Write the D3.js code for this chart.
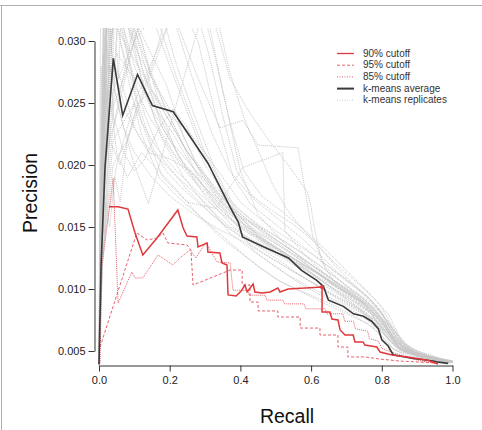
<!DOCTYPE html>
<html>
<head>
<meta charset="utf-8">
<script src="https://cdn.jsdelivr.net/npm/d3@7"></script>
<style>
  html, body { margin: 0; padding: 0; background: #fff; }
  svg { display: block; font-family: "Liberation Sans", Arial, Helvetica, sans-serif; }
</style>
</head>
<body>
<div id="chart"></div>
<script>
const WIDTH = 482;
const HEIGHT = 430;
const GREY = "#c6c6c6";
const BLACK = "#3a3a3a";
const RED = "#e0393b";
const LIGHTRED = "#e5606a";

const xTicks = [0, 0.2, 0.4, 0.6, 0.8, 1.0];
const yTicks = [0.005, 0.010, 0.015, 0.020, 0.025, 0.030];

// k-means average (recall, precision)
const kmeansAverage = [[0,.0039],[.006,.012],[.017,.0198],[.0405,.0286],[.067,.024],[.109,.0273],[.151,.0248],[.21,.0243],[.267,.0219],[.309,.0201],[.371,.0166],[.394,.0154],[.406,.0142],[.465,.0134],[.536,.0125],[.573,.0115],[.616,.0107],[.635,.0102],[.649,.0091],[.691,.0086],[.72,.008],[.748,.0078],[.771,.0074],[.79,.0068],[.8,.0059],[.818,.0054],[.832,.0047],[.889,.0044],[.946,.0042],[.96,.0041],[.988,.004]];

// cutoff curves
const cutoff90 = [[.028,.01664],[.054,.01664],[.082,.01645],[.102,.01452],[.124,.01274],[.164,.01411],[.223,.01637],[.238,.01492],[.249,.01427],[.277,.01419],[.28,.01339],[.306,.01371],[.308,.01298],[.342,.0129],[.348,.0121],[.362,.01194],[.365,.00952],[.388,.00944],[.402,.00984],[.413,.01032],[.419,.00976],[.436,.0104],[.441,.00976],[.461,.00968],[.484,.00976],[.506,.01008],[.512,.00976],[.535,.01],[.631,.01016],[.631,.00815],[.653,.00815],[.659,.00758],[.676,.0075],[.682,.0067],[.696,.00629],[.719,.00629],[.724,.00573],[.747,.00573],[.752,.00548],[.786,.00532],[.795,.00492],[.829,.00468],[.871,.00452],[.928,.00427],[.959,.00395]];
const cutoff95 = [[.003,.00532],[.107,.01452],[.136,.01395],[.164,.01411],[.181,.01452],[.195,.01371],[.249,.01355],[.26,.01315],[.266,.01032],[.371,.01153],[.405,.01153],[.405,.01032],[.427,.01032],[.427,.00895],[.45,.00895],[.45,.00823],[.506,.00823],[.506,.00774],[.569,.00774],[.569,.00685],[.625,.00685],[.625,.00629],[.676,.00629],[.676,.00532],[.704,.00532],[.704,.00452],[.752,.00452],[.795,.00435],[.851,.00419],[.956,.00403]];
const cutoff85 = [[.003,.00403],[.008,.01177],[.04,.01895],[.054,.00887],[.093,.01137],[.102,.01089],[.124,.01089],[.167,.01274],[.209,.01194],[.229,.0125],[.257,.01315],[.274,.0125],[.303,.01379],[.314,.01315],[.334,.01218],[.371,.0121],[.379,.0099],[.42,.0099],[.425,.0095],[.47,.0095],[.475,.0091],[.52,.0091],[.525,.0088],[.58,.0088],[.585,.0084],[.64,.0084],[.645,.008],[.69,.008],[.695,.0074],[.72,.0074],[.725,.0068],[.76,.0066],[.765,.006],[.79,.0058],[.8,.0052],[.83,.0049],[.87,.0045],[.91,.0042],[.956,.004]];

// k-means replicates
const replicates = [
  [[0,.004],[.005,.012],[.015,.024],[.025,.034],[.08,.033],[.15,.026],[.22,.021],[.3,.0175],[.38,.015],[.45,.0135],[.52,.0125],[.6,.011],[.68,.0095],[.75,.008],[.8,.0068],[.83,.0052],[.9,.0046],[1,.0041]],
  [[0,.004],[.008,.018],[.02,.035],[.1,.036],[.2,.028],[.28,.022],[.35,.0175],[.42,.0148],[.5,.013],[.58,.0118],[.65,.0102],[.72,.0088],[.78,.0076],[.82,.0062],[.86,.005],[.95,.0043],[1,.0041]],
  [[0,.004],[.01,.02],[.03,.038],[.14,.034],[.22,.027],[.3,.021],[.38,.0165],[.45,.0142],[.55,.0125],[.62,.0112],[.7,.0095],[.77,.0081],[.8,.0065],[.84,.0053],[.92,.0045],[.99,.0041]],
  [[0,.004],[.004,.01],[.02,.031],[.045,.036],[.12,.03],[.17,.025],[.24,.0215],[.32,.0182],[.4,.0152],[.47,.0138],[.55,.0122],[.63,.0108],[.7,.0097],[.76,.0083],[.8,.007],[.84,.0055],[.88,.0048],[.97,.0042],[1,.004]],
  [[0,.004],[.01,.012],[.03,.022],[.06,.02],[.1,.024],[.15,.028],[.21,.034],[.28,.03],[.33,.024],[.38,.019],[.43,.0168],[.5,.0152],[.57,.0136],[.63,.0122],[.7,.0108],[.76,.0094],[.8,.008],[.84,.0064],[.87,.0052],[.94,.0044],[1,.0041]],
  [[0,.004],[.01,.014],[.04,.026],[.1,.03],[.2,.034],[.33,.0312],[.37,.027],[.42,.0245],[.48,.022],[.54,.0198],[.59,.0178],[.6,.0166],[.61,.0148],[.63,.0122],[.66,.0108],[.72,.0095],[.78,.0083],[.82,.0067],[.86,.0054],[.92,.0046],[1,.0042]],
  [[0,.004],[.01,.016],[.03,.03],[.08,.035],[.2,.033],[.28,.027],[.342,.023],[.407,.0236],[.45,.0216],[.563,.0214],[.591,.0166],[.605,.0142],[.64,.0118],[.7,.0102],[.76,.0089],[.8,.0078],[.83,.0062],[.85,.0052],[.93,.0045],[1,.0042]],
  [[0,.004],[.01,.012],[.04,.022],[.1,.025],[.18,.019],[.25,.017],[.33,.0165],[.407,.0198],[.52,.021],[.526,.0147],[.58,.0128],[.64,.0112],[.7,.0098],[.76,.0086],[.8,.0072],[.84,.0058],[.88,.0048],[.96,.0043],[1,.0041]],
  [[0,.004],[.01,.014],[.03,.028],[.06,.024],[.1,.02],[.14,.0169],[.2,.023],[.26,.029],[.3,.033],[.35,.026],[.4,.0195],[.45,.016],[.52,.0138],[.6,.0117],[.68,.0101],[.75,.0088],[.8,.0075],[.84,.0058],[.88,.0049],[.96,.0043],[1,.0041]],
  [[0,.004],[.006,.016],[.018,.032],[.05,.034],[.09,.028],[.13,.024],[.18,.0205],[.25,.018],[.32,.016],[.4,.0142],[.47,.0128],[.55,.0114],[.62,.0102],[.68,.0091],[.74,.0082],[.79,.007],[.83,.0056],[.86,.0049],[.95,.0043],[1,.0041]],
  [[0,.004],[.012,.02],[.03,.033],[.07,.032],[.11,.029],[.16,.0265],[.22,.0235],[.27,.0205],[.33,.018],[.4,.0158],[.46,.0141],[.53,.0127],[.6,.0113],[.66,.0101],[.72,.009],[.78,.0078],[.82,.0064],[.85,.0053],[.9,.0047],[.98,.0042]],
  [[0,.004],[.004,.013],[.012,.026],[.03,.036],[.06,.03],[.09,.026],[.12,.0225],[.17,.019],[.22,.0175],[.3,.0155],[.38,.0135],[.45,.0118],[.52,.0105],[.6,.0095],[.67,.0086],[.73,.0077],[.78,.0068],[.81,.0058],[.84,.005],[.9,.0045],[1,.0041]],
  [[0,.004],[.01,.015],[.03,.024],[.07,.027],[.12,.032],[.17,.033],[.22,.028],[.27,.024],[.33,.0195],[.39,.0163],[.46,.0146],[.53,.0132],[.6,.0117],[.67,.0104],[.73,.0093],[.78,.0081],[.83,.0068],[.87,.0055],[.9,.0048],[.97,.0043],[1,.0041]],
  [[0,.004],[.01,.018],[.02,.027],[.04,.031],[.08,.033],[.13,.03],[.19,.0265],[.24,.0222],[.29,.0192],[.35,.0168],[.42,.015],[.49,.0136],[.56,.0122],[.63,.011],[.69,.0098],[.75,.0086],[.8,.0073],[.83,.006],[.87,.005],[.94,.0044],[1,.0041]],
  [[0,.004],[.01,.013],[.04,.02],[.08,.022],[.13,.026],[.18,.03],[.23,.034],[.27,.033],[.31,.029],[.35,.024],[.39,.0195],[.44,.0172],[.5,.0158],[.57,.0142],[.63,.0126],[.68,.0112],[.74,.0098],[.79,.0085],[.82,.007],[.85,.0057],[.9,.0048],[.98,.0042]],
  [[0,.004],[.006,.012],[.02,.021],[.05,.024],[.09,.029],[.14,.034],[.2,.037],[.28,.034],[.33,.0285],[.37,.0235],[.41,.0195],[.46,.0175],[.52,.0162],[.58,.0148],[.64,.0132],[.7,.0115],[.76,.0098],[.8,.0085],[.83,.007],[.86,.0056],[.93,.0046],[1,.0042]],
  [[0,.004],[.008,.017],[.02,.034],[.06,.035],[.1,.031],[.15,.027],[.19,.0245],[.24,.0215],[.28,.019],[.33,.0168],[.38,.0155],[.43,.0145],[.5,.0134],[.57,.0121],[.63,.0111],[.69,.0099],[.75,.0089],[.79,.0077],[.82,.0065],[.86,.0053],[.92,.0046],[1,.0041]],
  [[0,.004],[.005,.011],[.015,.02],[.03,.026],[.05,.021],[.08,.019],[.12,.021],[.17,.0195],[.22,.018],[.28,.016],[.35,.014],[.42,.0125],[.5,.0108],[.57,.0098],[.64,.0088],[.7,.008],[.76,.0072],[.8,.0062],[.83,.0052],[.87,.0046],[.95,.0042],[1,.0041]],
  [[0,.004],[.01,.022],[.025,.036],[.05,.033],[.08,.029],[.11,.025],[.15,.0215],[.19,.0195],[.24,.018],[.3,.0165],[.36,.015],[.43,.0138],[.5,.0125],[.56,.0113],[.62,.0102],[.68,.0092],[.74,.0083],[.79,.0072],[.82,.006],[.85,.0051],[.91,.0045],[.99,.0041]],
  [[0,.004],[.007,.014],[.02,.025],[.05,.029],[.1,.027],[.15,.025],[.21,.0225],[.26,.02],[.32,.0178],[.38,.0162],[.44,.0152],[.5,.0143],[.56,.0132],[.62,.012],[.68,.0107],[.73,.0096],[.78,.0084],[.82,.0068],[.85,.0056],[.9,.0047],[.97,.0042]],
  [[0,.004],[.01,.013],[.05,.02],[.1,.025],[.16,.029],[.22,.033],[.3,.036],[.34,.0312],[.37,.0275],[.41,.0238],[.45,.0212],[.49,.0185],[.53,.0165],[.57,.015],[.62,.0135],[.67,.0118],[.72,.0104],[.77,.0091],[.81,.0076],[.84,.0061],[.88,.0051],[.95,.0044],[1,.0042]],
  [[0,.004],[.01,.016],[.03,.029],[.06,.027],[.1,.023],[.14,.021],[.2,.0205],[.26,.0195],[.32,.0175],[.38,.0155],[.44,.013],[.5,.0118],[.56,.0106],[.62,.0096],[.68,.0088],[.74,.0079],[.78,.007],[.82,.006],[.86,.005],[.92,.0045],[1,.0041]],
  [[0,.004],[.005,.014],[.015,.03],[.035,.034],[.07,.03],[.1,.0265],[.14,.024],[.18,.0222],[.23,.02],[.29,.018],[.35,.0162],[.41,.0147],[.48,.0134],[.55,.0121],[.61,.011],[.67,.0099],[.72,.0088],[.77,.0076],[.81,.0063],[.84,.0053],[.9,.0046],[1,.0041]],
  [[0,.004],[.012,.019],[.04,.024],[.07,.021],[.1,.0195],[.13,.0205],[.17,.023],[.21,.0245],[.25,.023],[.3,.02],[.36,.0175],[.42,.0158],[.48,.0144],[.55,.013],[.62,.0116],[.68,.0104],[.74,.0094],[.79,.0083],[.83,.0069],[.86,.0057],[.9,.005],[.98,.0043]],
  [[0,.004],[.008,.012],[.02,.016],[.035,.022],[.06,.026],[.09,.03],[.12,.034],[.16,.036],[.22,.031],[.27,.0265],[.32,.0225],[.37,.0195],[.42,.0178],[.48,.0165],[.55,.0152],[.61,.0138],[.67,.012],[.73,.0105],[.78,.0092],[.82,.0079],[.85,.0062],[.88,.0052],[.96,.0044],[1,.0041]],
  [[0,.004],[.003,.012],[.01,.028],[.02,.04],[.05,.036],[.09,.03],[.13,.026],[.18,.022],[.24,.019],[.3,.0168],[.37,.015],[.44,.0139],[.51,.0128],[.58,.0116],[.65,.0103],[.71,.0092],[.77,.008],[.81,.0066],[.84,.0054],[.89,.0047],[.97,.0042]],
  [[0,.004],[.004,.016],[.012,.032],[.04,.038],[.08,.032],[.12,.027],[.16,.0235],[.21,.021],[.27,.0188],[.34,.0167],[.41,.0152],[.48,.014],[.55,.0127],[.62,.0113],[.68,.0101],[.74,.009],[.79,.0077],[.83,.0062],[.87,.0051],[.94,.0045],[1,.0041]],
  [[0,.004],[.006,.02],[.015,.034],[.03,.03],[.05,.027],[.08,.024],[.12,.022],[.17,.0205],[.23,.0188],[.3,.017],[.37,.0145],[.45,.0128],[.53,.0112],[.6,.0101],[.66,.0092],[.72,.0084],[.78,.0075],[.82,.0064],[.85,.0052],[.9,.0046],[.96,.0042],[1,.0041]],
  [[0,.004],[.003,.01],[.008,.022],[.015,.018],[.022,.03],[.03,.026],[.04,.034],[.07,.031],[.1,.028],[.14,.025],[.2,.022],[.26,.02],[.33,.0178],[.4,.0158],[.47,.0145],[.54,.0132],[.6,.012],[.66,.0108],[.72,.0096],[.77,.0085],[.81,.0072],[.84,.0058],[.88,.005],[.96,.0043],[1,.0041]],
  [[0,.004],[.002,.015],[.006,.028],[.01,.024],[.016,.036],[.04,.033],[.06,.03],[.09,.027],[.12,.0235],[.16,.0215],[.22,.0195],[.28,.0178],[.35,.016],[.42,.0146],[.49,.0134],[.56,.0123],[.62,.0112],[.69,.0099],[.75,.0087],[.8,.0074],[.83,.006],[.86,.0051],[.93,.0045],[1,.0041]],
  [[0,.004],[.004,.009],[.01,.014],[.02,.017],[.03,.015],[.045,.019],[.06,.017],[.08,.022],[.11,.025],[.15,.026],[.19,.024],[.24,.0215],[.3,.019],[.36,.017],[.42,.0156],[.48,.0144],[.55,.013],[.62,.0115],[.68,.0103],[.74,.0092],[.79,.008],[.83,.0066],[.86,.0054],[.92,.0046],[1,.0041]],
  [[0,.004],[.005,.017],[.012,.029],[.018,.025],[.025,.033],[.05,.031],[.09,.029],[.15,.026],[.2,.024],[.25,.0228],[.3,.021],[.35,.019],[.4,.017],[.45,.0158],[.5,.0147],[.56,.0136],[.62,.0125],[.67,.0113],[.72,.0102],[.77,.0091],[.8,.0082],[.82,.007],[.85,.0058],[.89,.0049],[.97,.0043]],
  [[0,.004],[.002,.02],[.005,.034],[.02,.036],[.03,.03],[.045,.026],[.07,.023],[.1,.021],[.15,.019],[.2,.0175],[.27,.016],[.34,.0148],[.41,.0138],[.48,.0126],[.55,.0114],[.62,.0103],[.68,.0093],[.74,.0084],[.79,.0073],[.82,.0062],[.85,.0052],[.9,.0046],[1,.0041]],
  [[0,.004],[.003,.014],[.007,.019],[.011,.026],[.014,.022],[.019,.029],[.024,.025],[.03,.033],[.036,.029],[.045,.037],[.08,.033],[.12,.028],[.17,.024],[.23,.0205],[.3,.0182],[.37,.0163],[.44,.0148],[.51,.0135],[.58,.0123],[.65,.011],[.71,.0098],[.77,.0086],[.81,.0071],[.84,.0057],[.89,.0048],[.97,.0042]],
  [[0,.004],[.004,.018],[.008,.024],[.013,.02],[.018,.027],[.026,.023],[.032,.031],[.038,.027],[.044,.033],[.05,.03],[.06,.036],[.1,.032],[.14,.028],[.19,.0245],[.25,.021],[.32,.0185],[.39,.0165],[.46,.015],[.53,.0137],[.6,.0124],[.66,.0111],[.72,.0099],[.78,.0087],[.82,.0073],[.85,.0059],[.89,.005],[.98,.0042]],
  [[0,.004],[.002,.011],[.006,.017],[.012,.023],[.017,.019],[.022,.026],[.028,.022],[.034,.028],[.04,.024],[.048,.03],[.055,.027],[.065,.034],[.09,.031],[.13,.027],[.18,.023],[.24,.02],[.31,.0178],[.38,.0158],[.45,.0143],[.52,.013],[.59,.0118],[.66,.0105],[.72,.0094],[.77,.0082],[.81,.0069],[.84,.0056],[.88,.0049],[.96,.0043]]
];

const legendItems = [
  {text: "90% cutoff", color: RED, dash: null, width: 1.3},
  {text: "95% cutoff", color: LIGHTRED, dash: "3,2", width: 1},
  {text: "85% cutoff", color: LIGHTRED, dash: "1,1.5", width: 1},
  {text: "k-means average", color: BLACK, dash: null, width: 2},
  {text: "k-means replicates", color: GREY, dash: "1,1.5", width: 1}
];

const svg = d3.select("#chart")
  .append("svg")
  .attr("width", WIDTH)
  .attr("height", HEIGHT);

// frame edges of the original figure
svg.append("line").attr("x1", 0).attr("x2", WIDTH).attr("y1", 5.5).attr("y2", 5.5)
  .attr("stroke", "#b0b0b0");
svg.append("line").attr("x1", 1.5).attr("x2", 1.5).attr("y1", 5).attr("y2", HEIGHT)
  .attr("stroke", "#b0b0b0");

// scales
const xScale = d3.scaleLinear().domain([0, 1]).range([99, 452.5]);
const yScale = d3.scaleLinear().domain([0.005, 0.030]).range([351, 41]);

svg.append("clipPath")
  .attr("id", "plot-clip")
  .append("rect")
  .attr("x", 90).attr("y", 28)
  .attr("width", 375).attr("height", 345);

const line = d3.line()
  .x(d => xScale(d[0]))
  .y(d => yScale(d[1]));

const plot = svg.append("g").attr("clip-path", "url(#plot-clip)");

// replicates
plot.selectAll("path.rep")
  .data(replicates)
  .enter()
  .append("path")
  .attr("class", "rep")
  .attr("d", line)
  .attr("fill", "none")
  .attr("stroke", GREY)
  .attr("stroke-width", 1)
  .attr("stroke-dasharray", "1,1");

// cutoffs
plot.append("path").datum(cutoff85).attr("d", line)
  .attr("fill", "none").attr("stroke", LIGHTRED).attr("stroke-width", 1)
  .attr("stroke-dasharray", "1,1");
plot.append("path").datum(cutoff95).attr("d", line)
  .attr("fill", "none").attr("stroke", LIGHTRED).attr("stroke-width", 1)
  .attr("stroke-dasharray", "3,2");
plot.append("path").datum(kmeansAverage).attr("d", line)
  .attr("fill", "none").attr("stroke", BLACK).attr("stroke-width", 1.6);
plot.append("path").datum(cutoff90).attr("d", line)
  .attr("fill", "none").attr("stroke", RED).attr("stroke-width", 1.5);

// the dot where the 90% curve meets the average
plot.append("circle")
  .attr("cx", xScale(cutoff90[28][0]))
  .attr("cy", yScale(cutoff90[28][1]))
  .attr("r", 2)
  .attr("fill", RED);

// axes
const xAxis = d3.axisBottom(xScale)
  .tickValues(xTicks)
  .tickFormat(d3.format(".1f"))
  .tickSizeOuter(0)
  .tickSizeInner(6)
  .tickPadding(5);
svg.append("g")
  .attr("transform", "translate(0,365.5)")
  .call(xAxis);

const yAxis = d3.axisLeft(yScale)
  .tickValues(yTicks)
  .tickFormat(d3.format(".3f"))
  .tickSizeOuter(0)
  .tickSizeInner(6)
  .tickPadding(3);
svg.append("g")
  .attr("transform", "translate(94.5,0)")
  .call(yAxis);

svg.selectAll(".tick text")
  .attr("font-size", "11px")
  .attr("font-family", "Liberation Sans, Arial, sans-serif")
  .attr("fill", "#222");
svg.selectAll(".domain, .tick line").attr("stroke", "#333");

// axis titles
svg.append("text")
  .attr("x", 287).attr("y", 423)
  .attr("text-anchor", "middle")
  .attr("font-size", "19.5px")
  .attr("fill", "#111")
  .text("Recall");

svg.append("text")
  .attr("transform", "translate(37,193) rotate(-90)")
  .attr("text-anchor", "middle")
  .attr("font-size", "19.5px")
  .attr("fill", "#111")
  .text("Precision");

// legend
const legend = svg.append("g").attr("transform", "translate(337,53)");
legend.selectAll("line")
  .data(legendItems)
  .enter()
  .append("line")
  .attr("x1", 0).attr("x2", 17)
  .attr("y1", (d, i) => i * 11.7 + 0.5).attr("y2", (d, i) => i * 11.7 + 0.5)
  .attr("stroke", d => d.color)
  .attr("stroke-width", d => d.width)
  .attr("stroke-dasharray", d => d.dash);
legend.selectAll("text")
  .data(legendItems)
  .enter()
  .append("text")
  .attr("x", 26)
  .attr("y", (d, i) => i * 11.7 + 3.5)
  .attr("font-size", "10px")
  .attr("fill", "#333")
  .text(d => d.text);
</script>
</body>
</html>
